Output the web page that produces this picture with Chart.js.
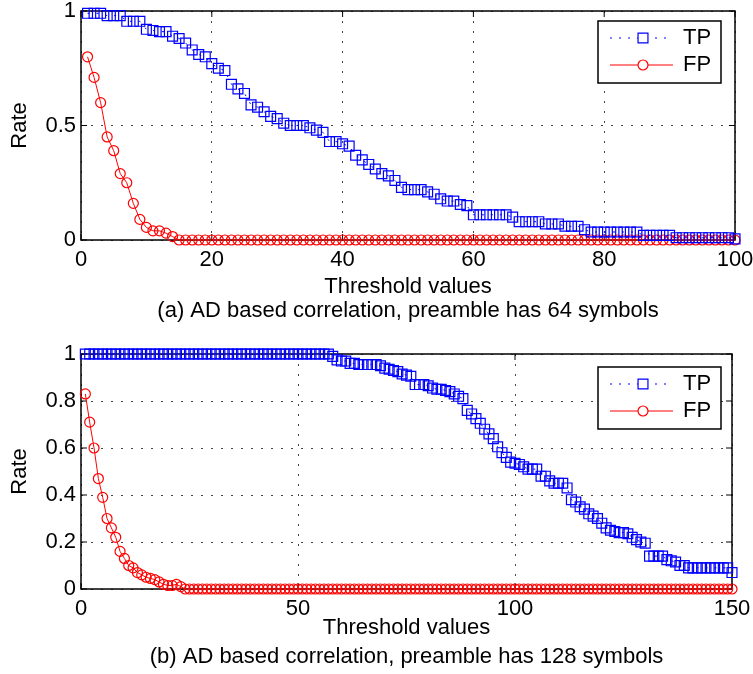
<!DOCTYPE html>
<html>
<head>
<meta charset="utf-8">
<script src="https://cdn.jsdelivr.net/npm/chart.js@4.4.0/dist/chart.umd.min.js"></script>
<style>
  body { margin: 0; background: #fff; }
  .panel { position: absolute; left: 0; }
</style>
</head>
<body>
<div class="panel" style="top:0px"><canvas id="chartA" width="753" height="330"></canvas></div>
<div class="panel" style="top:330px"><canvas id="chartB" width="753" height="344"></canvas></div>
<script>
// (a) preamble of 64 symbols
const thresholdsA = [
  1, 2, 3, 4, 5, 6, 7, 8, 9, 10,
  11, 12, 13, 14, 15, 16, 17, 18, 19, 20,
  21, 22, 23, 24, 25, 26, 27, 28, 29, 30,
  31, 32, 33, 34, 35, 36, 37, 38, 39, 40,
  41, 42, 43, 44, 45, 46, 47, 48, 49, 50,
  51, 52, 53, 54, 55, 56, 57, 58, 59, 60,
  61, 62, 63, 64, 65, 66, 67, 68, 69, 70,
  71, 72, 73, 74, 75, 76, 77, 78, 79, 80,
  81, 82, 83, 84, 85, 86, 87, 88, 89, 90,
  91, 92, 93, 94, 95, 96, 97, 98, 99, 100
];
const tpA = [
  0.99, 0.99, 0.99, 0.98, 0.98, 0.98, 0.955, 0.955, 0.955, 0.92,
  0.915, 0.91, 0.91, 0.89, 0.88, 0.86, 0.83, 0.81, 0.80, 0.77,
  0.75, 0.74, 0.68, 0.66, 0.64, 0.59, 0.58, 0.56, 0.54, 0.53,
  0.51, 0.50, 0.50, 0.50, 0.49, 0.48, 0.47, 0.43, 0.43, 0.42,
  0.41, 0.37, 0.35, 0.33, 0.31, 0.29, 0.28, 0.26, 0.23, 0.22,
  0.22, 0.22, 0.21, 0.20, 0.18, 0.17, 0.17, 0.155, 0.15, 0.11,
  0.11, 0.11, 0.11, 0.11, 0.11, 0.10, 0.08, 0.08, 0.08, 0.08,
  0.07, 0.07, 0.07, 0.06, 0.06, 0.06, 0.045, 0.035, 0.035, 0.035,
  0.035, 0.035, 0.035, 0.035, 0.035, 0.02, 0.02, 0.02, 0.02, 0.02,
  0.01, 0.01, 0.01, 0.01, 0.01, 0.01, 0.01, 0.01, 0.01, 0.005
];
const fpA = [
  0.80, 0.71, 0.60, 0.45, 0.39, 0.29, 0.25, 0.16, 0.09, 0.055,
  0.04, 0.04, 0.03, 0.015, 0, 0, 0, 0, 0, 0,
  0, 0, 0, 0, 0, 0, 0, 0, 0, 0,
  0, 0, 0, 0, 0, 0, 0, 0, 0, 0,
  0, 0, 0, 0, 0, 0, 0, 0, 0, 0,
  0, 0, 0, 0, 0, 0, 0, 0, 0, 0,
  0, 0, 0, 0, 0, 0, 0, 0, 0, 0,
  0, 0, 0, 0, 0, 0, 0, 0, 0, 0,
  0, 0, 0, 0, 0, 0, 0, 0, 0, 0,
  0, 0, 0, 0, 0, 0, 0, 0, 0, 0
];
const xTicksA = [0, 20, 40, 60, 80, 100];
const yTicksA = [0, 0.5, 1];

// (b) preamble of 128 symbols
const thresholdsB = [
  1, 2, 3, 4, 5, 6, 7, 8, 9, 10,
  11, 12, 13, 14, 15, 16, 17, 18, 19, 20,
  21, 22, 23, 24, 25, 26, 27, 28, 29, 30,
  31, 32, 33, 34, 35, 36, 37, 38, 39, 40,
  41, 42, 43, 44, 45, 46, 47, 48, 49, 50,
  51, 52, 53, 54, 55, 56, 57, 58, 59, 60,
  61, 62, 63, 64, 65, 66, 67, 68, 69, 70,
  71, 72, 73, 74, 75, 76, 77, 78, 79, 80,
  81, 82, 83, 84, 85, 86, 87, 88, 89, 90,
  91, 92, 93, 94, 95, 96, 97, 98, 99, 100,
  101, 102, 103, 104, 105, 106, 107, 108, 109, 110,
  111, 112, 113, 114, 115, 116, 117, 118, 119, 120,
  121, 122, 123, 124, 125, 126, 127, 128, 129, 130,
  131, 132, 133, 134, 135, 136, 137, 138, 139, 140,
  141, 142, 143, 144, 145, 146, 147, 148, 149, 150
];
const tpB = [
  1, 1, 1, 1, 1, 1, 1, 1, 1, 1,
  1, 1, 1, 1, 1, 1, 1, 1, 1, 1,
  1, 1, 1, 1, 1, 1, 1, 1, 1, 1,
  1, 1, 1, 1, 1, 1, 1, 1, 1, 1,
  1, 1, 1, 1, 1, 1, 1, 1, 1, 1,
  1, 1, 1, 1, 1, 1, 1, 0.99, 0.975, 0.97,
  0.97, 0.96, 0.96, 0.955, 0.955, 0.955, 0.955, 0.955, 0.95, 0.94,
  0.935, 0.93, 0.925, 0.915, 0.91, 0.905, 0.87, 0.87, 0.87, 0.865,
  0.855, 0.85, 0.85, 0.845, 0.84, 0.83, 0.82, 0.81, 0.76, 0.745,
  0.725, 0.705, 0.68, 0.66, 0.64, 0.605, 0.58, 0.56, 0.54, 0.535,
  0.53, 0.52, 0.51, 0.51, 0.51, 0.48, 0.48, 0.46, 0.45, 0.45,
  0.45, 0.43, 0.38, 0.37, 0.35, 0.34, 0.32, 0.31, 0.30, 0.28,
  0.26, 0.25, 0.245, 0.24, 0.24, 0.235, 0.22, 0.21, 0.20, 0.195,
  0.14, 0.14, 0.14, 0.14, 0.125, 0.12, 0.115, 0.10, 0.10, 0.09,
  0.09, 0.09, 0.09, 0.09, 0.09, 0.09, 0.09, 0.09, 0.09, 0.07
];
const fpB = [
  0.83, 0.71, 0.60, 0.47, 0.39, 0.30, 0.26, 0.22, 0.16, 0.13,
  0.10, 0.09, 0.07, 0.06, 0.05, 0.045, 0.04, 0.03, 0.02, 0.015,
  0.015, 0.02, 0.01, 0, 0, 0, 0, 0, 0, 0,
  0, 0, 0, 0, 0, 0, 0, 0, 0, 0,
  0, 0, 0, 0, 0, 0, 0, 0, 0, 0,
  0, 0, 0, 0, 0, 0, 0, 0, 0, 0,
  0, 0, 0, 0, 0, 0, 0, 0, 0, 0,
  0, 0, 0, 0, 0, 0, 0, 0, 0, 0,
  0, 0, 0, 0, 0, 0, 0, 0, 0, 0,
  0, 0, 0, 0, 0, 0, 0, 0, 0, 0,
  0, 0, 0, 0, 0, 0, 0, 0, 0, 0,
  0, 0, 0, 0, 0, 0, 0, 0, 0, 0,
  0, 0, 0, 0, 0, 0, 0, 0, 0, 0,
  0, 0, 0, 0, 0, 0, 0, 0, 0, 0,
  0, 0, 0, 0, 0, 0, 0, 0, 0, 0
];
const xTicksB = [0, 50, 100, 150];
const yTicksB = [0, 0.2, 0.4, 0.6, 0.8, 1];

const FONT = "'Liberation Sans', Arial, Helvetica, sans-serif";
const BLUE = '#0000ff';
const RED = '#ff0000';

Chart.defaults.font.family = FONT;
Chart.defaults.font.size = 22;
Chart.defaults.color = '#000';

// matlab style box with inward ticks
const matlabFrame = {
    id: 'matlabFrame',
    beforeDatasetsDraw(chart) {
        const { ctx, chartArea: a, scales: { x, y } } = chart;
        const len = 6;
        ctx.save();
        ctx.strokeStyle = '#000';
        ctx.lineWidth = 1;
        ctx.beginPath();
        x.ticks.forEach(t => {
            const px = x.getPixelForValue(t.value);
            ctx.moveTo(px, a.bottom); ctx.lineTo(px, a.bottom - len);
            ctx.moveTo(px, a.top); ctx.lineTo(px, a.top + len);
        });
        y.ticks.forEach(t => {
            const py = y.getPixelForValue(t.value);
            ctx.moveTo(a.left, py); ctx.lineTo(a.left + len, py);
            ctx.moveTo(a.right, py); ctx.lineTo(a.right - len, py);
        });
        ctx.stroke();
        ctx.lineWidth = 1.5;
        ctx.strokeRect(a.left, a.top, a.right - a.left, a.bottom - a.top);
        ctx.restore();
    }
};

// legend box in the upper right corner
const boxLegend = {
    id: 'boxLegend',
    afterDraw(chart, args, opts) {
        const { ctx, chartArea: a } = chart;
        const w = 123, h = 62;
        const left = a.right - opts.right - w;
        const top = a.top + opts.top;
        ctx.save();
        ctx.fillStyle = '#fff';
        ctx.fillRect(left, top, w, h);
        ctx.strokeStyle = '#000';
        ctx.lineWidth = 1.5;
        ctx.strokeRect(left, top, w, h);
        chart.data.datasets.forEach((ds, i) => {
            const cy = top + 17 + i * 27;
            ctx.strokeStyle = ds.borderColor;
            ctx.lineWidth = 1;
            ctx.setLineDash(ds.borderDash || []);
            ctx.beginPath();
            ctx.moveTo(left + 12, cy);
            ctx.lineTo(left + 75, cy);
            ctx.stroke();
            ctx.setLineDash([]);
            ctx.fillStyle = '#fff';
            ctx.lineWidth = ds.pointBorderWidth;
            ctx.beginPath();
            if (ds.pointStyle === 'rect') {
                const s = ds.pointRadius * Math.SQRT1_2;
                ctx.rect(left + 45 - s, cy - s, 2 * s, 2 * s);
            } else {
                ctx.arc(left + 45, cy, ds.pointRadius, 0, Math.PI * 2);
            }
            ctx.fill();
            ctx.stroke();
            ctx.fillStyle = '#000';
            ctx.font = '22px ' + FONT;
            ctx.textBaseline = 'middle';
            ctx.textAlign = 'left';
            ctx.fillText(ds.label, left + 85, cy);
        });
        ctx.restore();
    }
};

function makeChart(id, p) {
    return new Chart(document.getElementById(id), {
        type: 'line',
        data: {
            datasets: [{
                label: 'TP',
                data: p.thresholds.map((t, i) => ({ x: t, y: p.tp[i] })),
                borderColor: BLUE,
                borderWidth: 1,
                borderDash: [2, 7],
                pointStyle: 'rect',
                pointRadius: 7,
                pointBorderWidth: 1.2,
                pointBorderColor: BLUE,
                pointBackgroundColor: 'rgba(0,0,0,0)',
                tension: 0,
                clip: false
            }, {
                label: 'FP',
                data: p.thresholds.map((t, i) => ({ x: t, y: p.fp[i] })),
                borderColor: RED,
                borderWidth: 1,
                pointStyle: 'circle',
                pointRadius: 5,
                pointBorderWidth: 1.2,
                pointBorderColor: RED,
                pointBackgroundColor: 'rgba(0,0,0,0)',
                tension: 0,
                clip: false
            }]
        },
        options: {
            responsive: false,
            animation: false,
            events: [],
            layout: { padding: p.padding },
            plugins: {
                legend: { display: false },
                tooltip: { enabled: false },
                boxLegend: p.legend
            },
            scales: {
                x: {
                    type: 'linear',
                    min: p.xTicks[0],
                    max: p.xTicks[p.xTicks.length - 1],
                    afterBuildTicks: s => { s.ticks = p.xTicks.map(v => ({ value: v })); },
                    afterFit: s => {
                        s.height = p.xHeight;
                        s.paddingLeft = 0;
                        s.paddingRight = 0;
                    },
                    ticks: { padding: 7, callback: v => String(v), maxRotation: 0 },
                    grid: { color: '#444', lineWidth: 1, drawTicks: false },
                    border: { display: false, dash: [2, 8] },
                    title: {
                        display: true,
                        text: ['Threshold values', p.caption],
                        font: { size: 22, lineHeight: p.titleLine },
                        padding: { top: 0, bottom: p.titlePad }
                    }
                },
                y: {
                    type: 'linear',
                    min: 0,
                    max: 1,
                    afterBuildTicks: s => { s.ticks = p.yTicks.map(v => ({ value: v })); },
                    afterFit: s => {
                        s.width = 81;
                        s.paddingTop = 0;
                        s.paddingBottom = 0;
                    },
                    ticks: { padding: 5, callback: v => String(v) },
                    grid: { color: '#444', lineWidth: 1, drawTicks: false },
                    border: { display: false, dash: [2, 8] },
                    title: {
                        display: true,
                        text: 'Rate',
                        font: { size: 22, lineHeight: 1.2 },
                        padding: { top: 7, bottom: 0 }
                    }
                }
            }
        },
        plugins: [matlabFrame, boxLegend]
    });
}

makeChart('chartA', {
    thresholds: thresholdsA, tp: tpA, fp: fpA,
    xTicks: xTicksA, yTicks: yTicksA,
    caption: '(a) AD based correlation, preamble has 64 symbols',
    padding: { left: 0, right: 18, top: 11, bottom: 0 },
    xHeight: 90, titleLine: '24px', titlePad: 7,
    legend: { right: 14, top: 10 }
});

makeChart('chartB', {
    thresholds: thresholdsB, tp: tpB, fp: fpB,
    xTicks: xTicksB, yTicks: yTicksB,
    caption: '(b) AD based correlation, preamble has 128 symbols',
    padding: { left: 0, right: 21, top: 24, bottom: 0 },
    xHeight: 85, titleLine: '29px', titlePad: 2.5,
    legend: { right: 11, top: 13 }
});
</script>
</body>
</html>
